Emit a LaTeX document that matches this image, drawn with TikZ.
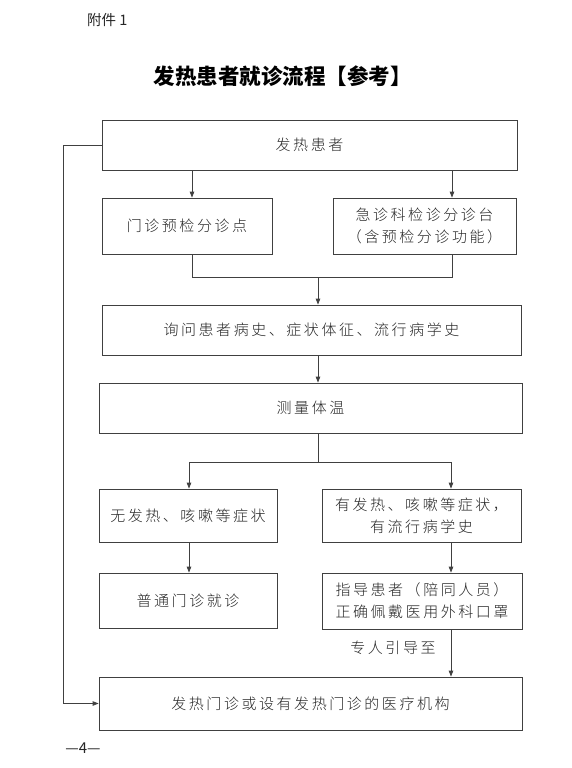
\documentclass[tikz,border=0pt]{standalone}
\usepackage{fontspec}
\setmainfont{Noto Sans CJK SC}
\newfontfamily\boxfont{Noto Sans CJK SC Light}[LetterSpace=17]
\usetikzlibrary{arrows.meta}
\begin{document}
\begin{tikzpicture}[x=1pt,y=-1pt,
  line/.style={draw=black!75, line width=0.8pt},
  arr/.style={line, -{Triangle[length=6pt,width=4.5pt]}},
  stepbox/.style={draw=black!75, line width=0.8pt, rectangle, inner sep=0pt, align=center,
    font=\boxfont\fontsize{15}{22}\selectfont, text=black!85},
  lbl/.style={inner sep=0pt, font=\boxfont\fontsize{15}{22}\selectfont, text=black!85}]
\useasboundingbox (0,0) rectangle (572,768);
\fill[white] (0,0) rectangle (572,768);

% header and title
\node[anchor=west, inner sep=0pt, font=\fontsize{14.5}{16}\selectfont, text=black!85] (att) at (87,20) {附件 1};
\node[inner sep=0pt, font=\bfseries\fontsize{21.5}{24}\selectfont] (title) at (282.5,76) {发热患者就诊流程【参考】};

% boxes
\node[stepbox, minimum width=415pt, minimum height=50pt] (n1) at (309.5,145) {发热患者};
\node[stepbox, minimum width=170pt, minimum height=56pt] (n2) at (187,226) {门诊预检分诊点};
\node[stepbox, minimum width=183pt, minimum height=56pt] (n3) at (424.5,226) {急诊科检诊分诊台\\（含预检分诊功能）};
\node[stepbox, minimum width=419pt, minimum height=50pt] (n4) at (311.5,330) {询问患者病史、症状体征、流行病学史};
\node[stepbox, minimum width=423pt, minimum height=50pt] (n5) at (310.5,408) {测量体温};
\node[stepbox, minimum width=178pt, minimum height=53pt] (n6) at (188,515.5) {无发热、咳嗽等症状};
\node[stepbox, minimum width=199pt, minimum height=53pt] (n7) at (421.5,515.5) {有发热、咳嗽等症状，\\有流行病学史};
\node[stepbox, minimum width=178pt, minimum height=55pt] (n8) at (188,600.5) {普通门诊就诊};
\node[stepbox, minimum width=200pt, minimum height=56pt] (n9) at (422,601) {指导患者（陪同人员）\\正确佩戴医用外科口罩};
\node[stepbox, minimum width=423pt, minimum height=53pt] (n10) at (310.5,703.5) {发热门诊或设有发热门诊的医疗机构};

% helper coordinates
\coordinate (a2) at (192,0);
\coordinate (a3) at (452,0);
\coordinate (ac) at (318,0);
\coordinate (mj) at (0,277);
\coordinate (sj) at (0,462);
\coordinate (b6) at (189,0);
\coordinate (b7) at (451,0);
\coordinate (fb) at (63,0);

% connectors
\draw[arr] (n1.south -| a2) -- (n2.north -| a2);
\draw[arr] (n1.south -| a3) -- (n3.north -| a3);
\draw[line] (n2.south -| a2) -- (mj -| a2) -- (mj -| a3) -- (n3.south -| a3);
\draw[arr] (mj -| ac) -- (n4.north -| ac);
\draw[arr] (n4.south -| ac) -- (n5.north -| ac);
\draw[line] (n5.south -| ac) -- (sj -| ac);
\draw[arr] (sj -| b6) -- (sj -| b7) -- (n7.north -| b7);
\draw[arr] (sj -| b6) -- (n6.north -| b6);
\draw[arr] (n6.south -| b6) -- (n8.north -| b6);
\draw[arr] (n7.south -| b7) -- (n9.north -| b7);
\draw[arr] (n9.south -| b7) -- (n10.north -| b7);
\node[lbl] (guide) at (393,648) {专人引导至};
\draw[arr] (n1.west) -- (n1.west -| fb) -- (n10.west -| fb) -- (n10.west);

% page number
\node[inner sep=0pt, font=\fontsize{15}{17}\selectfont, text=black!85] (page) at (83,748) {—4—};
\end{tikzpicture}
\end{document}
